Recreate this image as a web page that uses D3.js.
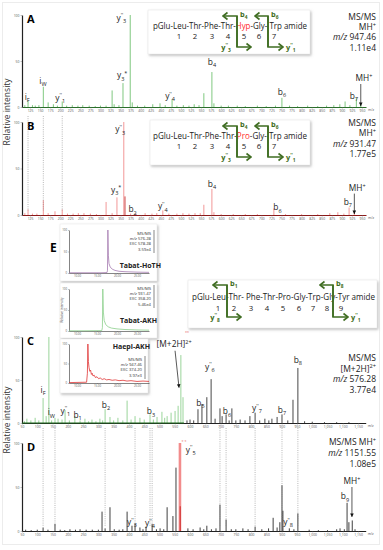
<!DOCTYPE html>
<html>
<head>
<meta charset="utf-8">
<script src="https://cdn.jsdelivr.net/npm/d3@7"></script>
<style>
  body { margin: 0; background: #fff; }
  svg { display: block; font-family: "Open Sans", "DejaVu Sans", sans-serif; }
</style>
</head>
<body>
<svg id="fig"></svg>
<script>
const width = 383;
const height = 550;

// ---------- data ----------
const mzTicksAB = d3.range(125, 951, 25);
const mzTicksCD = d3.range(50, 1151, 50);
const relTicks = [0, 50, 100];
const timeTicks = [10, 15, 20, 25];

// [m/z, relative intensity %]
const peaksA = [[112,2],[120,7],[131,2],[138,1.5],[147,2],[158,22],[170,5],[183,3],[193,1.5],[205,6],[216,1.5],[230,2],[244,1.5],[256,2],[272,1.5],[287,1],[300,1.5],[314,1.5],[329,18],[334,3],[346,2],[356,26],[374,100],[379,5],[392,1.5],[410,1.5],[430,3],[448,4],[461,2],[478,8],[490,1.5],[506,2],[520,1.5],[533,3],[545,2],[557,15],[577,38],[582,4],[600,1.5],[618,1.5],[640,1.5],[660,1],[690,1.5],[712,1],[735,1.5],[751,10],[770,1.5],[790,1],[815,1.5],[840,1],[862,1.5],[880,2],[895,3],[908,6],[920,2],[936,10],[947,3]];

const peaksB = [[112,2],[120,6],[131,1.5],[142,1.5],[158,16],[170,2],[187,4],[205,6],[218,1.5],[232,1.5],[245,2],[259,2],[275,1.5],[290,1],[314,14],[329,2],[341,19],[358,100],[361,20],[375,1.5],[388,2],[411,2],[428,1.5],[440,2],[455,5],[470,1.5],[490,1.5],[505,2],[520,1.5],[535,2],[548,2],[557,11],[577,28],[582,3],[600,1],[630,1],[660,1],[690,1],[731,7],[760,1],[800,1],[840,1],[870,2],[890,3],[905,1.5],[918,8],[931,3]];

const peaksC = [[58,2],[66,5],[79,3],[93,6],[105,3],[119,29],[129,8],[138,100],[147,3],[158,6],[168,5],[181,4],[191,15],[205,3],[223,8],[240,3],[256,5],[268,2],[279,4],[292,2],[305,5],[314,3],[322,16],[338,7],[350,3],[364,6],[380,3],[394,26],[407,4],[420,8],[436,6],[450,4],[469,10],[480,4],[492,7],[508,13],[517,6],[525,8],[538,12],[551,14],[561,20],[570,79],[577,30],
  [590,3],[600,4],[612,3],[626,16],[639,22],[655,30],[669,51],[682,5],[698,17],[705,8],[718,10],[728,3],[737,17],[750,3],[764,4],[780,3],[796,8],[813,12],[828,3],[845,5],[858,3],[868,5],[885,7],[901,10],[920,3],[937,27],[953,64],[975,2],[1000,1.5],[1040,1],[1080,1],[1120,1]];

const peaksD = [[62,1.5],[80,1],[100,1.5],[119,4],[135,1.5],[158,8],[175,1.5],[190,1],[207,2],[225,1.5],[240,2],[260,1.5],[280,1.5],[300,1.5],[312,22],[322,3],[338,27],[352,2],[368,1.5],[380,2],[394,22],[410,6],[420,8],[436,4],[446,2],[456,5],[476,8],[490,2],[502,3],[514,2],[525,27],[544,17],[554,72],[593,3],[610,2],[633,4],[645,2],[655,6],[670,2],[685,3],[698,30],[718,13],[735,2],[750,2],[773,3],[790,2],[813,5],[835,2],[857,3],[872,15],[885,4],[894,10],[901,52],[904,23],[925,3],[940,2],[953,20],[990,1.5],[1020,1],[1050,1],[1080,2],[1091,3],[1105,2],[1114,32],[1120,10],[1131,12],[1140,2]];
const peaksDRed = [[567,100]];
const peaksDRedCore = [[568,28]];

// ion labels: [m/z, intensity level, text]
const labelsA = [[118,8,"i_F"],[157,25,"i_W"],[200,7,"y^''_1"],[354,31,"y_3^*"],[352,94,"y^''_3"],[473,9,"y^''_4"],[577,46,"b_4"],[751,13,"b_6"],[930,9,"b_7"],[955,28,"MH^+"]];
const labelsB = [[349,89,"y^''_3"],[339,24,"y_3^*"],[380,3,"b_2"],[455,6,"y^''_4"],[577,30,"b_4"],[740,5,"b_6"],[915,11,"b_7"],[938,26,"MH^+"]];
const labelsC = [[119,35,"i_F"],[146,9,"i_W"],[192,11,"y^''_1"],[232,6,"b_1"],[325,18,"b_2"],[472,10,"b_3"],[548,88,"[M+2H]^2+"],[665,62,"y^''_6"],[634,20,"b_5"],[721,10,"b_6"],[819,14,"y^''_7"],[901,12,"b_7"],[953,70,"b_8"]];
const labelsD = [[410,7,"y^''_3"],[469,6,"y^''_4"],[602,89,"y^''_5"],[921,7,"y^''_8"],[1107,36,"b_9"],[1130,53,"MH^+"]];

// annotation arrows: [m/z from, int from, m/z to, int to]
const arrowsA = [[947,25,947,1]];
const arrowsB = [[931,23,931,1]];
const arrowsC = [[551,84,564,41]];
const arrowsD = [[1130,50,1130,16]];

// dotted guide lines (m/z)
const guidesB = [120, 158, 205];
const guidesD = [119, 158, 322, 420, 469, 476, 698, 718, 813, 901, 953];

// extracted ion chromatograms: [time, intensity]
const chromHoTH = [[8,0.5],[12,0.5],[16,0.5],[17.5,1],[17.62,6],[17.72,100],[17.85,40],[18,22],[18.3,14],[18.8,9],[19.5,6],[20.5,4],[22,3],[25,2],[28,1.5]];
const chromTabat = [[8,0.5],[12,0.5],[16.2,1],[16.35,8],[16.45,100],[16.6,45],[16.8,25],[17.2,15],[17.8,10],[18.6,7],[20,5],[22,3.5],[25,2.5],[28,2]];
const chromHaepl = [[8,1],[10,1.5],[12.4,2],[12.6,25],[12.72,100],[12.85,55],[13,40],[13.2,30],[13.4,33],[13.6,22],[13.8,25],[14,18],[14.3,20],[14.6,14],[15,16],[15.4,11],[15.8,13],[16.3,9],[16.8,11],[17.4,8],[18,9],[18.8,7],[19.6,8],[20.5,6],[21.5,7],[22.5,5],[23.5,6],[25,4],[26.5,5],[28,4]];

const seqA = ["pGlu","Leu","Thr","Phe","Thr","Hyp","Gly","Trp amide"];
const seqB = ["pGlu","Leu","Thr","Phe","Thr","Pro","Gly","Trp amide"];
const seqC = ["pGlu","Leu","Thr","Phe","Thr","Pro","Gly","Trp","Gly","Tyr amide"];

// ---------- setup ----------
const GREEN = "#3f6d22";
const svg = d3.select("#fig").attr("width", width).attr("height", height);
const defs = svg.append("defs");

const shadow = defs.append("filter").attr("id", "shadow")
  .attr("x", "-10%").attr("y", "-10%").attr("width", "130%").attr("height", "130%");
shadow.append("feDropShadow").attr("dx", 1.2).attr("dy", 1.5)
  .attr("stdDeviation", 1).attr("flood-color", "#888").attr("flood-opacity", 0.55);

defs.append("marker").attr("id", "chev")
  .attr("viewBox", "-6 -5 7 10").attr("refX", 0).attr("refY", 0)
  .attr("markerUnits", "userSpaceOnUse").attr("markerWidth", 7).attr("markerHeight", 10)
  .attr("orient", "auto")
  .append("path").attr("d", "M-4.5,-3.5L0,0L-4.5,3.5")
  .attr("fill", "none").attr("stroke", GREEN).attr("stroke-width", 1.6);

defs.append("marker").attr("id", "tri")
  .attr("viewBox", "-4 -2 4 4").attr("refX", 0).attr("refY", 0)
  .attr("markerUnits", "userSpaceOnUse").attr("markerWidth", 4).attr("markerHeight", 4)
  .attr("orient", "auto")
  .append("path").attr("d", "M-3.5,-1.8L0,0L-3.5,1.8Z").attr("fill", "#111");

svg.append("rect").attr("x", 2.5).attr("y", 2.5).attr("width", 377).attr("height", 542)
  .attr("fill", "#fff").attr("stroke", "#ececec");

function ionLabel(g, px, py, str, opt = {}) {
  const fs = opt.size || 8.4;
  const t = g.append("text").attr("x", px).attr("y", py)
    .attr("text-anchor", opt.anchor || "middle")
    .attr("font-size", fs)
    .attr("fill", opt.fill || "#222")
    .attr("font-weight", opt.weight || null);
  let level = 0;
  for (const m of str.matchAll(/([\^_]?)([^\^_]+)/g)) {
    const target = m[1] === "^" ? -0.38 * fs : m[1] === "_" ? 0.28 * fs : 0;
    const ts = t.append("tspan").attr("dy", target - level).text(m[2]);
    if (m[1]) ts.attr("font-size", fs * 0.66);
    level = target;
  }
  return t;
}

function styleAxis(sel, fs, col) {
  sel.attr("font-size", null).attr("font-family", null);
  sel.selectAll("text").attr("font-size", fs).attr("fill", "#555");
  sel.selectAll(".tick line").attr("stroke", "#666").attr("stroke-width", 0.4);
  sel.select(".domain").attr("stroke", col || "#222");
}

function drawSpectrum(cfg) {
  const g = svg.append("g");
  const x = d3.scaleLinear().domain(cfg.mzDomain).range(cfg.xRange);
  const y = d3.scaleLinear().domain([0, 100]).range([cfg.base, cfg.top]);

  g.append("g").attr("transform", `translate(0,${cfg.base})`)
    .call(d3.axisBottom(x).tickValues(cfg.ticks).tickSize(1.5).tickSizeOuter(0).tickPadding(1))
    .call(s => styleAxis(s, 3.4, cfg.baseColor))
    .call(s => s.select(".domain").attr("stroke-width", 1.1));

  g.append("text").attr("x", cfg.xRange[1] + 2).attr("y", cfg.base + 4)
    .attr("font-size", 3.4).attr("fill", "#555").text("m/z");

  g.append("g").attr("transform", `translate(${cfg.xRange[0]},0)`)
    .call(d3.axisLeft(y).tickValues(relTicks).tickSize(1.5).tickSizeOuter(0).tickPadding(1))
    .call(s => styleAxis(s, 3.4, "#222"))
    .call(s => s.select(".domain").attr("stroke-width", 1.2));

  g.selectAll(".pk").data(cfg.peaks).join("line")
    .attr("x1", d => x(d[0])).attr("x2", d => x(d[0]))
    .attr("y1", y(0)).attr("y2", d => y(d[1]))
    .attr("stroke", d => cfg.color(d[0])).attr("stroke-width", 0.9);

  g.selectAll(".lb").data(cfg.labels).join(d => d.append("g"))
    .each(function(d) { ionLabel(d3.select(this), x(d[0]), y(d[1]), d[2]); });

  g.selectAll(".ar").data(cfg.arrows).join("line")
    .attr("x1", d => x(d[0])).attr("y1", d => y(d[1]))
    .attr("x2", d => x(d[2])).attr("y2", d => y(d[3]))
    .attr("stroke", "#111").attr("stroke-width", 0.7).attr("marker-end", "url(#tri)");

  ionLabel(g, cfg.xRange[0] + 5, cfg.top + 8, cfg.letter, { anchor: "start", size: 11, weight: 700, fill: "#000" });

  const rt = g.append("g").attr("font-size", 8.5).attr("fill", "#222").attr("text-anchor", "end");
  cfg.info.forEach((line, i) => {
    const t = rt.append("text").attr("x", 376).attr("y", cfg.infoY + i * cfg.infoStep);
    if (line.startsWith("m/z")) {
      t.append("tspan").attr("font-style", "italic").text("m/z");
      t.append("tspan").text(line.slice(3));
    } else {
      ionLabel(rt, 376, cfg.infoY + i * cfg.infoStep, line, { anchor: "end", size: 8.5 });
      t.remove();
    }
  });
  return { g, x, y };
}

function drawGuides(xs, y1, y2) {
  svg.append("g").selectAll("line").data(xs).join("line")
    .attr("x1", d => d).attr("x2", d => d).attr("y1", y1).attr("y2", y2)
    .attr("stroke", "#888").attr("stroke-width", 0.6).attr("stroke-dasharray", "1,1.2");
}

function drawSeqBox(b) {
  const g = svg.append("g");
  g.append("rect").attr("x", b.x0).attr("y", b.y0).attr("width", b.x1 - b.x0).attr("height", b.y1 - b.y0)
    .attr("fill", "#fff").attr("stroke", "#e4e4e4").attr("stroke-width", 0.5).attr("filter", "url(#shadow)");
  const t = g.append("text").attr("x", b.tx).attr("y", b.ty).attr("font-size", 8.4).attr("fill", "#222")
    .attr("textLength", b.tLen).attr("lengthAdjust", "spacingAndGlyphs");
  b.seq.forEach((r, i) => {
    t.append("tspan").attr("fill", i === b.red ? "#ff2a2a" : null).text(r);
    if (i < b.seq.length - 1) t.append("tspan").text(b.spaceAfter.includes(i) ? "- " : "-");
  });
  g.selectAll(".num").data(b.nums).join("text")
    .attr("x", d => d).attr("y", b.ny).attr("text-anchor", "middle")
    .attr("font-size", 7.8).attr("fill", "#222").text((d, i) => i + 1);
  b.brackets.forEach(k => {
    g.append("path").attr("d", `M${k.x},${k.y1}V${k.y0}H${k.left}`)
      .attr("fill", "none").attr("stroke", GREEN).attr("stroke-width", 1.6).attr("marker-end", "url(#chev)");
    g.append("path").attr("d", `M${k.x},${k.y0}V${k.y1}H${k.right}`)
      .attr("fill", "none").attr("stroke", GREEN).attr("stroke-width", 1.6).attr("marker-end", "url(#chev)");
    ionLabel(g, k.x + 3, k.y0 + 1, k.top, { anchor: "start", size: 7.4, weight: 700, fill: GREEN });
    ionLabel(g, k.blx, k.y1 + 2.5, k.bottom, { anchor: k.bla, size: 7.4, weight: 700, fill: GREEN });
  });
}

function drawInset(c) {
  const g = svg.append("g");
  g.append("rect").attr("x", c.box[0]).attr("y", c.box[1]).attr("width", c.box[2]).attr("height", c.box[3])
    .attr("fill", "#fff").attr("stroke", "#e6e6e6").attr("stroke-width", 0.5).attr("filter", "url(#shadow)");
  const x = d3.scaleLinear().domain([8, 28]).range([c.left, c.right]);
  const y = d3.scaleLinear().domain([0, 100]).range([c.base, c.top]);
  g.append("g").attr("transform", `translate(0,${c.base})`)
    .call(d3.axisBottom(x).tickValues(timeTicks).tickSize(1).tickSizeOuter(0).tickPadding(1).tickFormat(d3.format(".2f")))
    .call(s => styleAxis(s, 2.8, "#333"))
    .call(s => s.select(".domain").attr("stroke-width", 0.6));
  g.append("g").attr("transform", `translate(${c.left},0)`)
    .call(d3.axisLeft(y).tickValues(relTicks).tickSize(1).tickSizeOuter(0).tickPadding(1))
    .call(s => styleAxis(s, 2.8, "#333"))
    .call(s => s.select(".domain").attr("stroke-width", 0.6));
  g.append("path").datum(c.data)
    .attr("d", d3.line().x(d => x(d[0])).y(d => y(d[1])))
    .attr("fill", "none").attr("stroke", c.color).attr("stroke-width", 0.8);
  const tx = g.append("g").attr("font-size", 4.2).attr("fill", "#333").attr("text-anchor", "end");
  c.info.forEach((line, i) => {
    const t = tx.append("text").attr("x", c.infoX).attr("y", c.infoY + i * 5.2);
    if (line.startsWith("m/z")) {
      t.append("tspan").attr("font-style", "italic").text("m/z");
      t.append("tspan").text(line.slice(3));
    } else t.text(line);
  });
  g.append("line").attr("x1", c.infoX + 3).attr("x2", c.infoX + 3)
    .attr("y1", c.infoY - 5).attr("y2", c.infoY + 18).attr("stroke", "#aaa").attr("stroke-width", 1.4);
  g.append("text").attr("x", c.nameX).attr("y", c.nameY).attr("text-anchor", "end")
    .attr("font-size", 7).attr("font-weight", 700).attr("fill", "#222").text(c.name);
  if (c.ylab) {
    g.append("text").attr("transform", `translate(${c.left - 6},${(c.top + c.base) / 2}) rotate(-90)`)
      .attr("text-anchor", "middle").attr("font-size", 3.2).attr("fill", "#444").text("Relative intensity");
  }
}

// ---------- panels A, B ----------
const panelA = drawSpectrum({
  mzDomain: [105, 960], xRange: [22, 366], base: 107, top: 15, ticks: mzTicksAB,
  peaks: peaksA, labels: labelsA, arrows: arrowsA, letter: "A",
  color: () => "#72c272", baseColor: "#2b6e2b",
  info: ["MS/MS", "MH^+", "m/z 947.46", "1.11e4"], infoY: 20, infoStep: 10.2
});

const panelB = drawSpectrum({
  mzDomain: [105, 960], xRange: [22, 366], base: 215, top: 122, ticks: mzTicksAB,
  peaks: peaksB, labels: labelsB, arrows: arrowsB, letter: "B",
  color: d => d === 361 ? "#c83030" : "#f08c8c", baseColor: "#8b1a1a",
  info: ["MS/MS", "MH^+", "m/z 931.47", "1.77e5"], infoY: 126, infoStep: 10.4
});
drawGuides(guidesB.map(panelA.x), 116, 211);

drawSeqBox({
  x0: 148, y0: 10, x1: 310, y1: 54, tx: 153, ty: 29, tLen: 154, seq: seqA, red: 5, spaceAfter: [6],
  nums: [179, 195, 212, 228, 244, 259, 274], ny: 39,
  brackets: [
    { x: 237, y0: 16, y1: 47, left: 223, right: 251, top: "b_4", bottom: "y^''_3", blx: 226, bla: "middle" },
    { x: 268, y0: 16, y1: 47, left: 255, right: 283, top: "b_6", bottom: "y^''_1", blx: 286, bla: "start" }
  ]
});
drawSeqBox({
  x0: 150, y0: 120, x1: 310, y1: 165, tx: 153, ty: 139, tLen: 154, seq: seqB, red: 5, spaceAfter: [6],
  nums: [179, 195, 212, 228, 244, 259, 274], ny: 149,
  brackets: [
    { x: 237, y0: 126, y1: 157, left: 223, right: 251, top: "b_4", bottom: "y^''_3", blx: 226, bla: "middle" },
    { x: 268, y0: 126, y1: 157, left: 255, right: 283, top: "b_6", bottom: "y^''_1", blx: 286, bla: "start" }
  ]
});

// ---------- panels C, D ----------
const panelC = drawSpectrum({
  mzDomain: [50, 1175], xRange: [22, 365.7], base: 423, top: 337, ticks: mzTicksCD,
  peaks: peaksC, labels: labelsC, arrows: arrowsC, letter: "C",
  color: d => d < 580 ? "#8fd08f" : "#333", baseColor: "#222",
  info: ["MS/MS", "[M+2H]^2+", "m/z 576.28", "3.77e4"], infoY: 361, infoStep: 10.6
});
panelC.g.append("line").attr("x1", panelC.x(50)).attr("x2", panelC.x(580))
  .attr("y1", 423).attr("y2", 423).attr("stroke", "#1f6b1f").attr("stroke-width", 1.1);

const panelD = drawSpectrum({
  mzDomain: [50, 1175], xRange: [22, 365.7], base: 531, top: 443, ticks: mzTicksCD,
  peaks: peaksD, labels: labelsD, arrows: arrowsD, letter: "D",
  color: () => "#2a2a2a", baseColor: "#222",
  info: ["MS/MS MH^+", "m/z 1151.55", "1.08e5"], infoY: 445, infoStep: 10.8
});
panelD.g.selectAll(".red").data(peaksDRed).join("line")
  .attr("x1", d => panelD.x(d[0])).attr("x2", d => panelD.x(d[0]))
  .attr("y1", panelD.y(0)).attr("y2", d => panelD.y(d[1]))
  .attr("stroke", "#f28c8c").attr("stroke-width", 2.6);
panelD.g.selectAll(".redc").data(peaksDRedCore).join("line")
  .attr("x1", d => panelD.x(d[0])).attr("x2", d => panelD.x(d[0]))
  .attr("y1", panelD.y(0)).attr("y2", d => panelD.y(d[1]))
  .attr("stroke", "#d43a3a").attr("stroke-width", 1.2);
panelD.g.append("text").attr("x", panelD.x(580)).attr("y", 442).attr("text-anchor", "middle")
  .attr("font-size", 4).attr("fill", "#e03030").text("« »");
panelC.g.append("text").attr("x", 187).attr("y", 333).attr("text-anchor", "middle")
  .attr("font-size", 4).attr("fill", "#e03030").text("«»");
drawGuides(guidesD.map(panelC.x), 428, 527);

drawSeqBox({
  x0: 188, y0: 280, x1: 377, y1: 328, tx: 192, ty: 300, tLen: 183, seq: seqC, red: -1, spaceAfter: [2],
  nums: [218, 234, 251, 267, 283, 299, 313, 327, 341], ny: 311,
  brackets: [
    { x: 227, y0: 285, y1: 317, left: 213, right: 241, top: "b_1", bottom: "y^''_8", blx: 215, bla: "middle" },
    { x: 333, y0: 285, y1: 317, left: 320, right: 348, top: "b_8", bottom: "y^''_1", blx: 351, bla: "start" }
  ]
});

// ---------- panel E insets ----------
drawInset({ box: [60, 224, 97, 57], left: 69, right: 149, top: 230, base: 273,
  data: chromHoTH, color: "#a47ab0", name: "Tabat-HoTH", nameX: 161, nameY: 268,
  info: ["MS/MS", "m/z 576.28", "EXC 578.28", "3.59e4"], infoX: 151, infoY: 235 });
drawInset({ box: [60, 283, 97, 55], left: 69, right: 149, top: 289, base: 331,
  data: chromTabat, color: "#8ccf8c", name: "Tabat-AKH", nameX: 157, nameY: 323, ylab: true,
  info: ["MS/MS", "m/z 931.47", "EXC 358.20", "5.46e4"], infoX: 151, infoY: 290 });
drawInset({ box: [60, 339, 88, 54], left: 69, right: 149, top: 344, base: 383,
  data: chromHaepl, color: "#e03535", name: "Haepl-AKH", nameX: 150, nameY: 349,
  info: ["MS/MS", "m/z 947.46", "EXC 374.20", "3.97e3"], infoX: 142, infoY: 361 });
svg.append("text").attr("x", 50).attr("y", 252).attr("font-size", 12)
  .attr("font-weight", 700).attr("fill", "#000").text("E");

// ---------- y axis titles ----------
[112, 420].forEach(cy => {
  svg.append("text").attr("transform", `translate(10,${cy}) rotate(-90)`)
    .attr("text-anchor", "middle").attr("font-size", 8.5).attr("fill", "#333").text("Relative intensity");
});
</script>
</body>
</html>
